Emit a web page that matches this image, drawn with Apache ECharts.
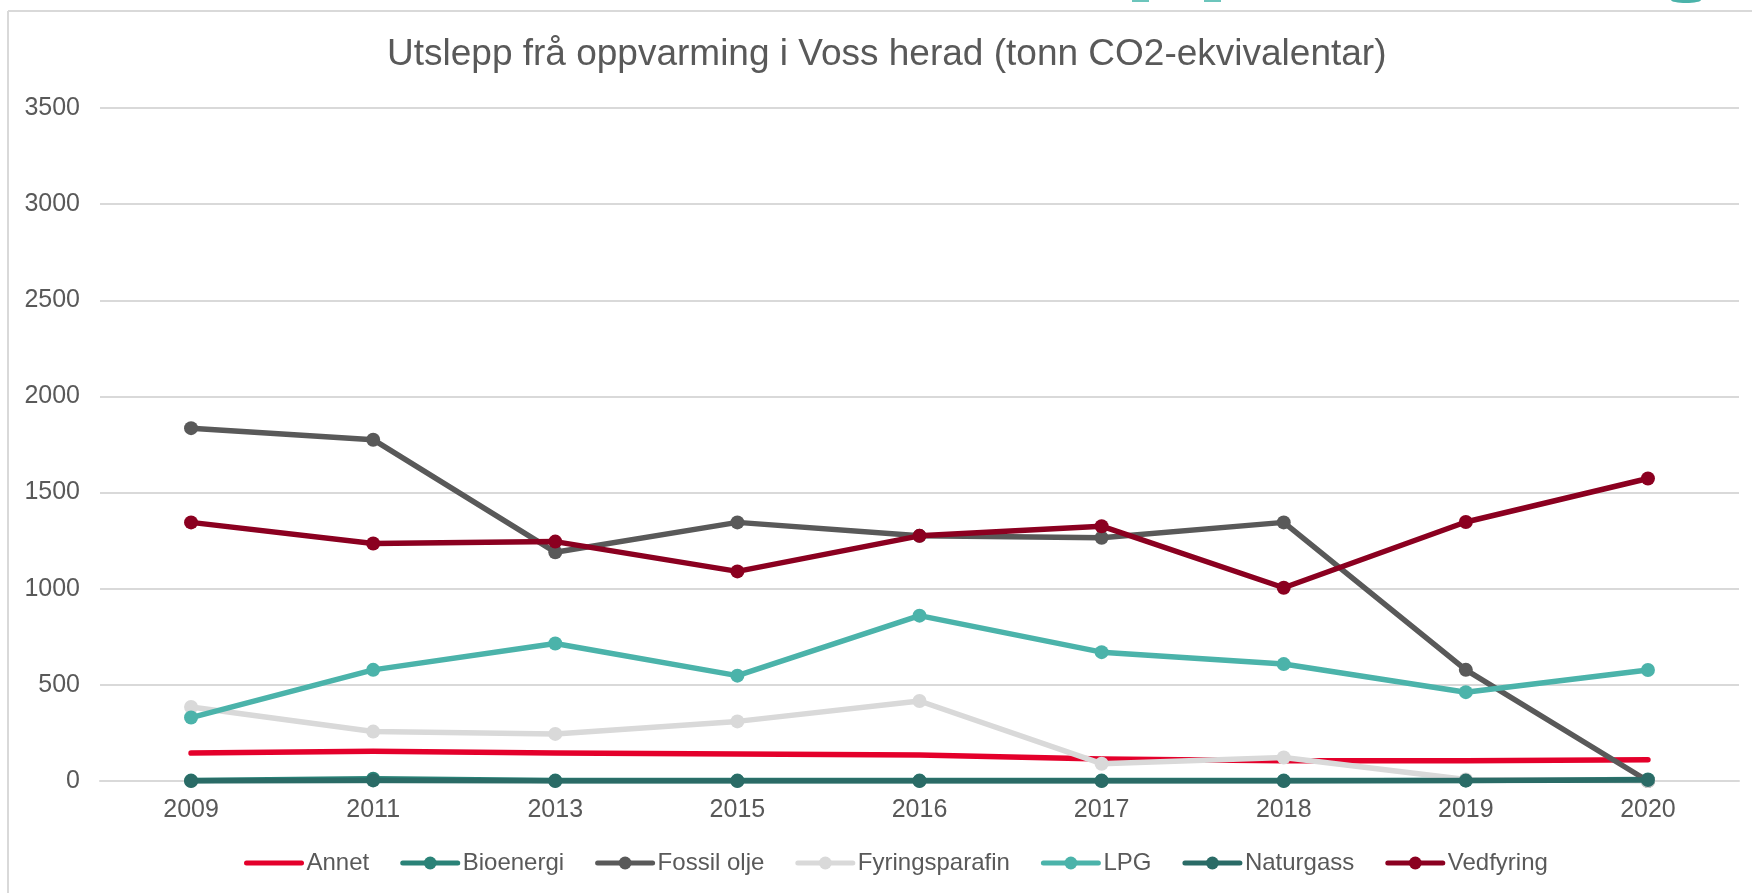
<!DOCTYPE html>
<html>
<head>
<meta charset="utf-8">
<script src="https://cdn.jsdelivr.net/npm/echarts@6/dist/echarts.min.js"></script>
<style>
html,body{margin:0;padding:0;background:#fff;}
#chart{width:1752px;height:893px;}
</style>
</head>
<body>
<div id="chart"></div>
<script>
const title = 'Utslepp frå oppvarming i Voss herad (tonn CO2-ekvivalentar)';
const years = ['2009','2011','2013','2015','2016','2017','2018','2019','2020'];
const yTicks = {min: 0, max: 3500, interval: 500};

const seriesNames = ['Annet','Bioenergi','Fossil olje','Fyringsparafin','LPG','Naturgass','Vedfyring'];
const seriesColors = ['#E4002B','#2A8277','#595959','#D9D9D9','#4BB3AA','#2A6B66','#8B0020'];

const annet          = [145, 155, 145, 140, 135, 115, 105, 105, 110];
const bioenergi      = [2, 12, 2, 2, 2, 2, 2, 3, 8];
const fossilOlje     = [1835, 1775, 1190, 1345, 1275, 1265, 1345, 578, 0];
const fyringsparafin = [385, 257, 245, 310, 416, 90, 122, 8, 0];
const lpg            = [330, 578, 715, 548, 860, 670, 608, 462, 577];
const naturgass      = [0, 3, 0, 0, 0, 0, 0, 2, 5];
const vedfyring      = [1345, 1235, 1245, 1090, 1275, 1325, 1005, 1347, 1573];

const seriesData = [annet, bioenergi, fossilOlje, fyringsparafin, lpg, naturgass, vedfyring];
const hasMarker = [false, true, true, true, true, true, true];

const font = '"Liberation Sans", Arial, sans-serif';
const textColor = '#595959';

const chart = echarts.init(document.getElementById('chart'), null, {renderer: 'canvas'});

const series = seriesNames.map((name, i) => ({
  name: name,
  type: 'line',
  data: seriesData[i],
  symbol: hasMarker[i] ? 'circle' : 'none',
  symbolSize: 14,
  showSymbol: hasMarker[i],
  lineStyle: {color: seriesColors[i], width: 5.5, cap: 'round', join: 'round'},
  itemStyle: {color: seriesColors[i], borderWidth: 0},
  emphasis: {disabled: true},
  z: 2 + i
}));

const legendData = seriesNames.map((name, i) => hasMarker[i]
  ? {name: name}
  : {name: name, itemStyle: {opacity: 0}});

chart.setOption({
  animation: false,
  backgroundColor: '#ffffff',
  title: {
    text: title,
    left: 382,
    top: 31,
    textStyle: {fontFamily: font, fontSize: 37, fontWeight: 'normal', color: textColor}
  },
  legend: {
    data: legendData,
    left: 239,
    top: 846,
    itemWidth: 55,
    itemHeight: 16,
    itemGap: 31,
    lineStyle: {width: 5},
    textStyle: {fontFamily: font, fontSize: 24, color: textColor}
  },
  grid: {left: 100, right: 13, top: 108, bottom: 112, containLabel: false},
  xAxis: {
    type: 'category',
    data: years,
    boundaryGap: true,
    axisLine: {show: true, lineStyle: {color: '#D9D9D9', width: 2}},
    axisTick: {show: false},
    axisLabel: {fontFamily: font, fontSize: 25, color: textColor, margin: 17}
  },
  yAxis: {
    type: 'value',
    min: yTicks.min,
    max: yTicks.max,
    interval: yTicks.interval,
    axisLine: {show: false},
    axisTick: {show: false},
    splitLine: {lineStyle: {color: '#D9D9D9', width: 2}},
    axisLabel: {fontFamily: font, fontSize: 25, color: textColor, margin: 20, formatter: v => String(v)}
  },
  graphic: [
    {type: 'line', shape: {x1: 8, y1: 11, x2: 1752, y2: 11}, style: {stroke: '#D9D9D9', lineWidth: 2}},
    {type: 'line', shape: {x1: 8, y1: 11, x2: 8, y2: 893}, style: {stroke: '#D9D9D9', lineWidth: 2}},
    {type: 'rect', shape: {x: 1132, y: 0, width: 17, height: 2}, style: {fill: '#6CC5BC'}},
    {type: 'rect', shape: {x: 1204, y: 0, width: 17, height: 2}, style: {fill: '#6CC5BC'}},
    {type: 'ellipse', shape: {cx: 1686, cy: 0, rx: 15, ry: 3}, style: {fill: '#4BB3AA'}}
  ],
  series: series
});
</script>
</body>
</html>
